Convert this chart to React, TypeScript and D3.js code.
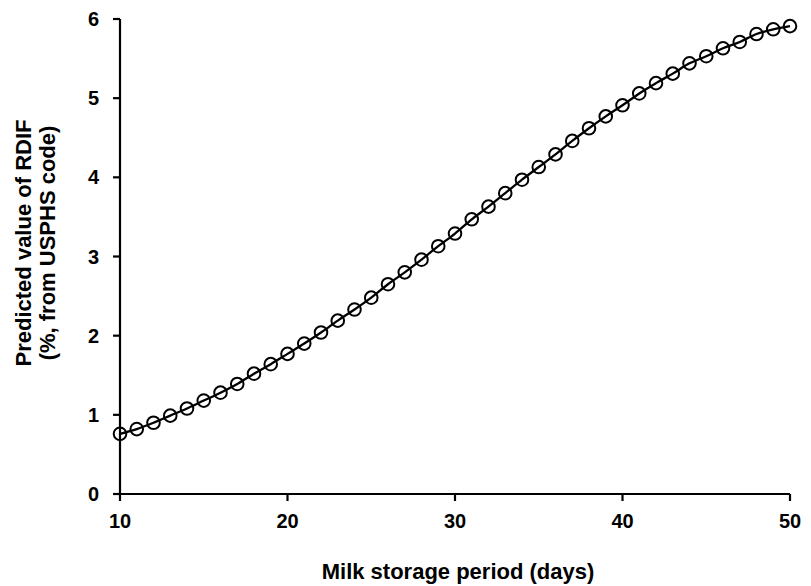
import React from "react";
import * as d3 from "d3";

const days = [10,11,12,13,14,15,16,17,18,19,20,21,22,23,24,25,26,27,28,29,30,31,32,33,34,35,36,37,38,39,40,41,42,43,44,45,46,47,48,49,50];
const rdif = [0.76,0.82,0.90,0.99,1.08,1.18,1.28,1.39,1.52,1.64,1.77,1.90,2.04,2.19,2.33,2.48,2.65,2.80,2.96,3.13,3.29,3.47,3.63,3.80,3.97,4.13,4.29,4.46,4.62,4.77,4.91,5.06,5.19,5.31,5.44,5.53,5.63,5.71,5.81,5.87,5.91];
const xTicks = [10, 20, 30, 40, 50];
const yTicks = [0, 1, 2, 3, 4, 5, 6];
const xTitle = "Milk storage period (days)";
const yTitle1 = "Predicted value of RDIF";
const yTitle2 = "(%, from USPHS code)";

export default function App() {
  const W = 811, H = 586;
  const left = 120, right = 790, top = 19, bottom = 494;
  const x = d3.scaleLinear().domain([10, 50]).range([left, right]);
  const y = d3.scaleLinear().domain([0, 6]).range([bottom, top]);
  const pts = days.map((d, i) => [d, rdif[i]] as [number, number]);
  const line = d3.line<[number, number]>().x(d => x(d[0])).y(d => y(d[1])).curve(d3.curveMonotoneX);
  const font = "'Liberation Sans', Arial, sans-serif";
  const cy = 243;
  return (
    <svg width={W} height={H} style={{ position: "absolute", left: 0, top: 0, background: "#fff" }} fontFamily={font}>
      <path d={line(pts) || ""} fill="none" stroke="#000" strokeWidth={2.3} />
      {pts.map((p, i) => (
        <circle key={i} cx={x(p[0])} cy={y(p[1])} r={6.3} fill="none" stroke="#000" strokeWidth={2} />
      ))}
      <line x1={left} x2={left} y1={top} y2={bottom} stroke="#000" strokeWidth={2.2} />
      <line x1={left} x2={right} y1={bottom} y2={bottom} stroke="#000" strokeWidth={2.2} />
      {yTicks.map(t => (
        <g key={t}>
          <line x1={left - 7} x2={left} y1={y(t)} y2={y(t)} stroke="#000" strokeWidth={2.2} />
          <text x={99} y={y(t)} dy="0.35em" textAnchor="end" fontSize={20} fontWeight="bold">{t}</text>
        </g>
      ))}
      {xTicks.map(t => (
        <g key={t}>
          <line x1={x(t)} x2={x(t)} y1={bottom} y2={bottom + 7} stroke="#000" strokeWidth={2.2} />
          <text x={x(t)} y={528} textAnchor="middle" fontSize={20} fontWeight="bold">{t}</text>
        </g>
      ))}
      <text x={458} y={579} textAnchor="middle" fontSize={22} fontWeight="bold">{xTitle}</text>
      <text transform={`translate(31,${cy}) rotate(-90)`} textAnchor="middle" fontSize={22} fontWeight="bold">{yTitle1}</text>
      <text transform={`translate(55,${cy}) rotate(-90)`} textAnchor="middle" fontSize={22} fontWeight="bold">{yTitle2}</text>
    </svg>
  );
}
